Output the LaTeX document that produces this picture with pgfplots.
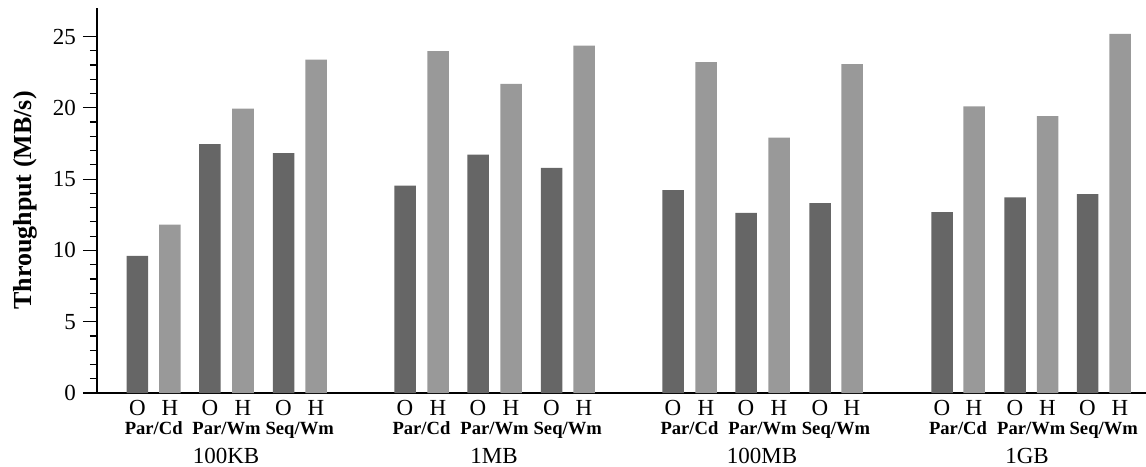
\documentclass[border=0pt]{standalone}
\usepackage{pgfplots}
\pgfplotsset{compat=1.18}
\usepackage{fontspec}
\setmainfont{Liberation Serif}
\definecolor{darkbar}{HTML}{666666}
\definecolor{lightbar}{HTML}{999999}
\tikzset{
  oh/.style={anchor=base, yshift=-11pt, inner sep=0pt, font=\fontsize{11.5}{13}\selectfont},
  sub/.style={anchor=base, yshift=-20.5pt, inner sep=0pt, font=\fontsize{9.3}{11}\selectfont\bfseries},
  grp/.style={anchor=base, yshift=-35pt, inner sep=0pt, font=\fontsize{11.5}{13}\selectfont},
}
\begin{document}
\begin{tikzpicture}
\begin{axis}[
  scale only axis, width=524.5pt, height=192.5pt,
  xmin=97, xmax=1146, ymin=0, ymax=27,
  axis x line=bottom, axis y line=left,
  axis line style={-, line width=1pt, black},
  every outer x axis line/.append style={-},
  every outer y axis line/.append style={-},
  xtick=\empty,
  ytick={0,5,10,15,20,25},
  minor y tick num=4,
  tick align=outside,
  major tick length=7pt, minor tick length=3.5pt,
  every tick/.style={black, line width=0.6pt},
  yticklabel style={font=\fontsize{11.5}{13}\selectfont, /pgf/number format/assume math mode=true},
  ylabel={\textbf{Throughput (MB/s)}},
  ylabel style={font=\fontsize{13}{15}\selectfont, at={(axis description cs:-0.0686,0.5)}, anchor=center},
  clip=false,
]
\addplot[ybar, bar width=21.5, bar shift=0pt, fill=darkbar, draw=none] coordinates {
 (137.5,9.62) (210,17.46) (283.5,16.83)
 (405,14.54) (478,16.71) (551.5,15.78)
 (673,14.23) (746,12.64) (820,13.32)
 (942,12.69) (1015,13.72) (1087.5,13.95)};
\addplot[ybar, bar width=21.5, bar shift=0pt, fill=lightbar, draw=none] coordinates {
 (170,11.8) (243,19.94) (316,23.38)
 (438,23.97) (511,21.68) (584,24.37)
 (706,23.2) (779,17.91) (852,23.06)
 (974,20.11) (1047.5,19.41) (1120,25.19)};
\coordinate (ll) at (rel axis cs:0,0);
\coordinate (ur) at (rel axis cs:1,1);
% O / H labels
\node[oh] at (axis cs:137.5,0) {O}; \node[oh] at (axis cs:170,0) {H};
\node[oh] at (axis cs:210,0) {O};   \node[oh] at (axis cs:243,0) {H};
\node[oh] at (axis cs:283.5,0) {O}; \node[oh] at (axis cs:316,0) {H};
\node[oh] at (axis cs:405,0) {O};   \node[oh] at (axis cs:438,0) {H};
\node[oh] at (axis cs:478,0) {O};   \node[oh] at (axis cs:511,0) {H};
\node[oh] at (axis cs:551.5,0) {O}; \node[oh] at (axis cs:584,0) {H};
\node[oh] at (axis cs:673,0) {O};   \node[oh] at (axis cs:706,0) {H};
\node[oh] at (axis cs:746,0) {O};   \node[oh] at (axis cs:779,0) {H};
\node[oh] at (axis cs:820,0) {O};   \node[oh] at (axis cs:852,0) {H};
\node[oh] at (axis cs:942,0) {O};   \node[oh] at (axis cs:974,0) {H};
\node[oh] at (axis cs:1015,0) {O};  \node[oh] at (axis cs:1047.5,0) {H};
\node[oh] at (axis cs:1087.5,0) {O};\node[oh] at (axis cs:1120,0) {H};
% subgroup labels
\node[sub] at (axis cs:153.75,0) {Par/Cd};
\node[sub] at (axis cs:226.5,0) {Par/Wm};
\node[sub] at (axis cs:299.75,0) {Seq/Wm};
\node[sub] at (axis cs:421.5,0) {Par/Cd};
\node[sub] at (axis cs:494.5,0) {Par/Wm};
\node[sub] at (axis cs:567.75,0) {Seq/Wm};
\node[sub] at (axis cs:689.5,0) {Par/Cd};
\node[sub] at (axis cs:762.5,0) {Par/Wm};
\node[sub] at (axis cs:836,0) {Seq/Wm};
\node[sub] at (axis cs:958,0) {Par/Cd};
\node[sub] at (axis cs:1031.25,0) {Par/Wm};
\node[sub] at (axis cs:1103.75,0) {Seq/Wm};
% group labels
\node[grp] at (axis cs:226,0) {100KB};
\node[grp] at (axis cs:494,0) {1MB};
\node[grp] at (axis cs:762,0) {100MB};
\node[grp] at (axis cs:1027,0) {1GB};
\end{axis}
\pgfresetboundingbox
\path ([shift={(-48.5pt,-36.5pt)}]ll) rectangle ([shift={(0pt,4pt)}]ur);
\end{tikzpicture}
\end{document}
